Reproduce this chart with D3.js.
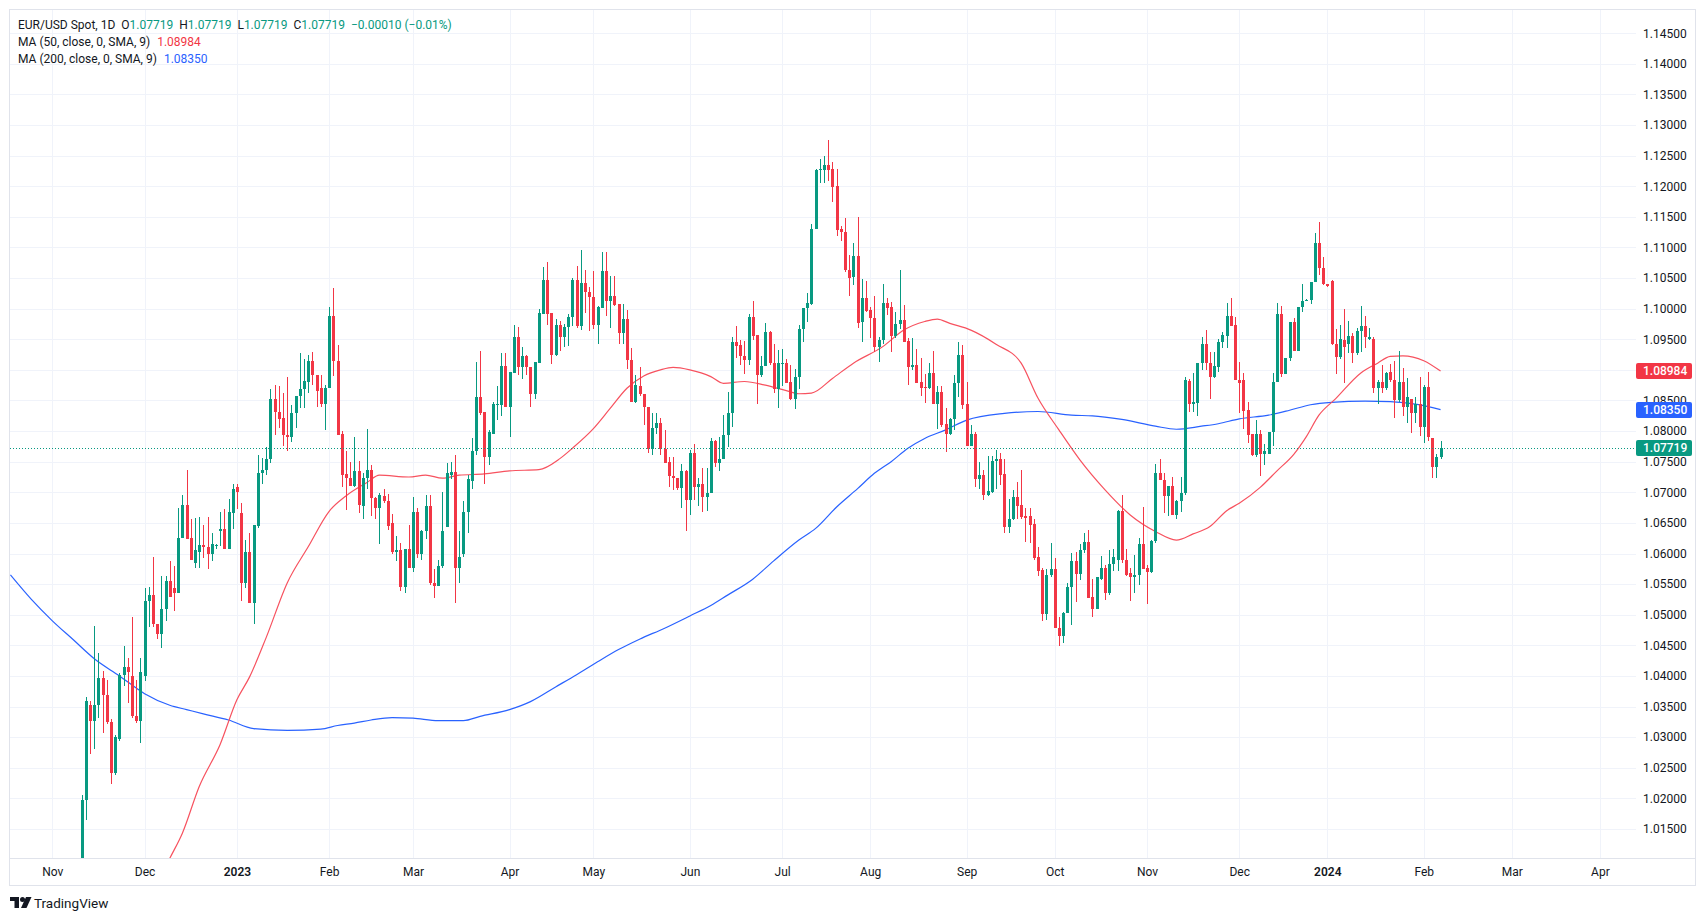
<!DOCTYPE html>
<html>
<head>
<meta charset="utf-8">
<script src="https://cdn.jsdelivr.net/npm/d3@7"></script>
<style>
  html, body { margin: 0; padding: 0; background: #fff; }
  svg { display: block; font-family: Roboto, "Noto Sans", sans-serif; }
</style>
</head>
<body>
<svg id="chart" width="1706" height="921"></svg>
<script>
// EUR/USD daily candles, one value per weekday starting at firstCandleDay
const firstCandleDay = "2022-11-10";

const opens = [
  1.0010, 1.0197, 1.0352, 1.0327, 1.0352, 1.0397, 1.0368, 1.0325, 1.0241, 1.0297, 1.0401, 1.0414, 1.0400, 1.0334, 1.0326,
  1.0400, 1.0523, 1.0533, 1.0485, 1.0469, 1.0509, 1.0555, 1.0543, 1.0535, 1.0626, 1.0679, 1.0625, 1.0584, 1.0603, 1.0614, 1.0611, 1.0599, 1.0613, 1.0636, 1.0640, 1.0608, 1.0666,
  1.0708, 1.0666, 1.0551, 1.0603, 1.0519, 1.0645, 1.0731, 1.0736, 1.0754, 1.0853, 1.0831, 1.0822, 1.0793, 1.0790, 1.0829, 1.0857, 1.0868, 1.0880, 1.0915, 1.0892, 1.0870, 1.0845,
  1.0871, 1.0988, 1.0915, 1.0796, 1.0730, 1.0724, 1.0711, 1.0734, 1.0677, 1.0723, 1.0737, 1.0690, 1.0674, 1.0694, 1.0685, 1.0650, 1.0603, 1.0606, 1.0546, 1.0608,
  1.0577, 1.0667, 1.0600, 1.0636, 1.0678, 1.0552, 1.0547, 1.0580, 1.0643, 1.0728, 1.0733, 1.0576, 1.0600, 1.0667, 1.0719, 1.0768, 1.0856, 1.0831, 1.0758, 1.0796, 1.0843, 1.0843, 1.0906,
  1.0839, 1.0895, 1.0954, 1.0904, 1.0923, 1.0904, 1.0861, 1.0912, 1.0992, 1.1047, 1.0993, 1.0924, 1.0973, 1.0954, 1.0970, 1.0986, 1.1047, 1.0972, 1.1042, 1.1028,
  1.1019, 1.0973, 1.1001, 1.1061, 1.1012, 1.1021, 1.1007, 1.0961, 1.0983, 1.0916, 1.0848, 1.0874, 1.0861, 1.0840, 1.0770, 1.0805, 1.0813, 1.0770, 1.0750, 1.0726, 1.0724, 1.0707, 1.0735,
  1.0688, 1.0764, 1.0708, 1.0713, 1.0693, 1.0699, 1.0783, 1.0748, 1.0755, 1.0794, 1.0829, 1.0946, 1.0941, 1.0922, 1.0916, 1.0987, 1.0957, 1.0892, 1.0906, 1.0962, 1.0912, 1.0868,
  1.0909, 1.0912, 1.0881, 1.0853, 1.0888, 1.0966, 1.1001, 1.1008, 1.1130, 1.1226, 1.1227, 1.1235, 1.1228, 1.1200, 1.1131, 1.1126, 1.1064, 1.1051, 1.1086, 1.0979, 1.1017,
  1.0998, 1.0984, 1.0937, 1.0949, 1.1009, 1.1002, 1.0955, 1.0975, 1.0981, 1.0948, 1.0905, 1.0908, 1.0881, 1.0872, 1.0870, 1.0895, 1.0844, 1.0864, 1.0811, 1.0795, 1.0819, 1.0879, 1.0924,
  1.0844, 1.0776, 1.0795, 1.0721, 1.0728, 1.0696, 1.0701, 1.0751, 1.0754, 1.0730, 1.0643, 1.0657, 1.0693, 1.0679, 1.0661, 1.0661, 1.0648, 1.0594, 1.0573, 1.0501, 1.0565,
  1.0574, 1.0478, 1.0465, 1.0502, 1.0545, 1.0587, 1.0567, 1.0605, 1.0619, 1.0529, 1.0510, 1.0559, 1.0577, 1.0535, 1.0583, 1.0590, 1.0670, 1.0590, 1.0568, 1.0562, 1.0565, 1.0615,
  1.0577, 1.0570, 1.0621, 1.0731, 1.0720, 1.0694, 1.0710, 1.0663, 1.0685, 1.0699, 1.0882, 1.0844, 1.0846, 1.0912, 1.0942, 1.0912, 1.0888, 1.0905, 1.0946, 1.0955, 1.0988, 1.0973,
  1.0884, 1.0884, 1.0834, 1.0795, 1.0761, 1.0795, 1.0763, 1.0763, 1.0798, 1.0881, 1.0992, 1.0894, 1.0919, 1.0979, 1.0931, 1.1002, 1.1013, 1.1014, 1.1044, 1.1108, 1.1066,
  1.1040, 1.1046, 1.0942, 1.0921, 1.0949, 1.0942, 1.0955, 1.0928, 1.0964, 1.0971, 1.0950, 1.0951, 1.0871, 1.0881, 1.0870, 1.0897, 1.0884, 1.0850, 1.0881, 1.0840, 1.0852, 1.0830, 1.0845,
  1.0807, 1.0872, 1.0788, 1.0742, 1.0757
];

const highs = [
  1.0205, 1.0365, 1.0359, 1.0481, 1.0438, 1.0408, 1.0394, 1.0330, 1.0303, 1.0404, 1.0449, 1.0429, 1.0497, 1.0394, 1.0429,
  1.0543, 1.0545, 1.0595, 1.0485, 1.0564, 1.0564, 1.0588, 1.0580, 1.0674, 1.0695, 1.0736, 1.0656, 1.0658, 1.0660, 1.0646, 1.0660, 1.0633, 1.0615, 1.0668, 1.0673, 1.0689, 1.0713,
  1.0713, 1.0682, 1.0622, 1.0633, 1.0646, 1.0761, 1.0756, 1.0774, 1.0868, 1.0876, 1.0874, 1.0863, 1.0888, 1.0842, 1.0857, 1.0928, 1.0917, 1.0925, 1.0929, 1.0892, 1.0891, 1.0876,
  1.1002, 1.1034, 1.0940, 1.0800, 1.0767, 1.0749, 1.0791, 1.0751, 1.0731, 1.0804, 1.0745, 1.0693, 1.0699, 1.0706, 1.0698, 1.0664, 1.0628, 1.0617, 1.0608, 1.0646,
  1.0693, 1.0674, 1.0638, 1.0696, 1.0696, 1.0574, 1.0590, 1.0701, 1.0748, 1.0750, 1.0761, 1.0636, 1.0686, 1.0728, 1.0788, 1.0913, 1.0931, 1.0831, 1.0801, 1.0848, 1.0873, 1.0927, 1.0927,
  1.0897, 1.0973, 1.0970, 1.0937, 1.0924, 1.0904, 1.0913, 1.1000, 1.1068, 1.1077, 1.0993, 1.0983, 1.0980, 1.0975, 1.0991, 1.1050, 1.1069, 1.1096, 1.1063, 1.1036,
  1.1062, 1.1004, 1.1093, 1.1093, 1.1053, 1.1053, 1.1007, 1.1007, 1.0998, 1.0935, 1.0892, 1.0904, 1.0861, 1.0840, 1.0829, 1.0830, 1.0821, 1.0802, 1.0758, 1.0758, 1.0724, 1.0747, 1.0736,
  1.0769, 1.0779, 1.0723, 1.0739, 1.0739, 1.0788, 1.0785, 1.0791, 1.0826, 1.0864, 1.0954, 1.0972, 1.0949, 1.0948, 1.0991, 1.1013, 1.0957, 1.0922, 1.0977, 1.0964, 1.0943, 1.0932,
  1.0934, 1.0917, 1.0908, 1.0901, 1.0973, 1.1001, 1.1026, 1.1139, 1.1229, 1.1244, 1.1250, 1.1276, 1.1239, 1.1229, 1.1135, 1.1148, 1.1088, 1.1107, 1.1150, 1.1048, 1.1046,
  1.1003, 1.1021, 1.0954, 1.1041, 1.1017, 1.1011, 1.0995, 1.1064, 1.1006, 1.0952, 1.0952, 1.0934, 1.0919, 1.0894, 1.0912, 1.0931, 1.0873, 1.0873, 1.0837, 1.0822, 1.0892, 1.0945, 1.0941,
  1.0881, 1.0810, 1.0799, 1.0750, 1.0736, 1.0759, 1.0759, 1.0769, 1.0765, 1.0754, 1.0689, 1.0703, 1.0717, 1.0737, 1.0674, 1.0674, 1.0656, 1.0610, 1.0576, 1.0574, 1.0617,
  1.0592, 1.0496, 1.0505, 1.0552, 1.0601, 1.0603, 1.0615, 1.0634, 1.0639, 1.0559, 1.0562, 1.0596, 1.0581, 1.0605, 1.0607, 1.0671, 1.0696, 1.0607, 1.0577, 1.0598, 1.0625, 1.0676,
  1.0581, 1.0622, 1.0747, 1.0755, 1.0731, 1.0710, 1.0725, 1.0687, 1.0725, 1.0889, 1.0885, 1.0895, 1.0911, 1.0953, 1.0965, 1.0930, 1.0930, 1.0950, 1.0962, 1.1009, 1.1017, 1.0986,
  1.0913, 1.0895, 1.0848, 1.0795, 1.0818, 1.0802, 1.0779, 1.0799, 1.0895, 1.1009, 1.1004, 1.0919, 1.0979, 1.0984, 1.1002, 1.1040, 1.1016, 1.1044, 1.1124, 1.1141, 1.1085,
  1.1041, 1.1047, 1.0966, 1.0973, 1.0999, 1.0980, 1.0961, 1.0968, 1.1004, 1.0988, 1.0968, 1.0953, 1.0883, 1.0908, 1.0897, 1.0910, 1.0915, 1.0931, 1.0903, 1.0886, 1.0852, 1.0856, 1.0889,
  1.0875, 1.0897, 1.0788, 1.0763, 1.0784
];

const lows = [
  0.9990, 1.0165, 1.0272, 1.0281, 1.0331, 1.0306, 1.0322, 1.0223, 1.0238, 1.0294, 1.0383, 1.0355, 1.0331, 1.0323, 1.0291,
  1.0392, 1.0480, 1.0480, 1.0460, 1.0445, 1.0490, 1.0529, 1.0506, 1.0535, 1.0626, 1.0623, 1.0589, 1.0576, 1.0577, 1.0592, 1.0575, 1.0588, 1.0608, 1.0612, 1.0608, 1.0608, 1.0640,
  1.0673, 1.0522, 1.0543, 1.0519, 1.0485, 1.0642, 1.0714, 1.0728, 1.0748, 1.0793, 1.0805, 1.0775, 1.0768, 1.0782, 1.0805, 1.0837, 1.0837, 1.0863, 1.0876, 1.0839, 1.0839, 1.0802,
  1.0871, 1.0890, 1.0793, 1.0709, 1.0671, 1.0711, 1.0709, 1.0666, 1.0657, 1.0706, 1.0661, 1.0656, 1.0615, 1.0682, 1.0638, 1.0600, 1.0587, 1.0538, 1.0535, 1.0577,
  1.0569, 1.0592, 1.0590, 1.0623, 1.0548, 1.0527, 1.0547, 1.0576, 1.0643, 1.0721, 1.0519, 1.0552, 1.0595, 1.0633, 1.0706, 1.0761, 1.0826, 1.0714, 1.0745, 1.0795, 1.0818, 1.0825, 1.0839,
  1.0790, 1.0895, 1.0892, 1.0885, 1.0892, 1.0839, 1.0853, 1.0912, 1.0991, 1.0973, 1.0910, 1.0922, 1.0931, 1.0938, 1.0939, 1.0972, 1.0968, 1.0965, 1.0993, 1.0964,
  1.0966, 1.0942, 1.1001, 1.0988, 1.0968, 1.1004, 1.0943, 1.0943, 1.0902, 1.0848, 1.0846, 1.0857, 1.0810, 1.0764, 1.0761, 1.0795, 1.0761, 1.0748, 1.0709, 1.0704, 1.0704, 1.0674, 1.0636,
  1.0663, 1.0687, 1.0677, 1.0668, 1.0670, 1.0699, 1.0742, 1.0734, 1.0755, 1.0774, 1.0806, 1.0919, 1.0908, 1.0894, 1.0908, 1.0949, 1.0845, 1.0889, 1.0906, 1.0908, 1.0862, 1.0837,
  1.0873, 1.0878, 1.0851, 1.0836, 1.0868, 1.0946, 1.0979, 1.1006, 1.1130, 1.1206, 1.1205, 1.1209, 1.1175, 1.1119, 1.1110, 1.1060, 1.1021, 1.1039, 1.0968, 1.0945, 1.0995,
  1.0952, 1.0930, 1.0913, 1.0943, 1.0990, 1.0930, 1.0952, 1.0966, 1.0945, 1.0875, 1.0900, 1.0878, 1.0857, 1.0846, 1.0868, 1.0844, 1.0803, 1.0806, 1.0766, 1.0794, 1.0802, 1.0856, 1.0836,
  1.0775, 1.0775, 1.0708, 1.0705, 1.0688, 1.0694, 1.0699, 1.0706, 1.0712, 1.0633, 1.0634, 1.0655, 1.0656, 1.0657, 1.0618, 1.0617, 1.0590, 1.0563, 1.0489, 1.0491, 1.0561,
  1.0478, 1.0449, 1.0453, 1.0502, 1.0483, 1.0521, 1.0556, 1.0601, 1.0527, 1.0497, 1.0509, 1.0556, 1.0524, 1.0532, 1.0572, 1.0572, 1.0584, 1.0563, 1.0523, 1.0536, 1.0548, 1.0574,
  1.0517, 1.0568, 1.0617, 1.0720, 1.0666, 1.0661, 1.0663, 1.0657, 1.0667, 1.0696, 1.0832, 1.0832, 1.0825, 1.0899, 1.0899, 1.0852, 1.0886, 1.0896, 1.0935, 1.0935, 1.0972, 1.0883,
  1.0830, 1.0804, 1.0780, 1.0759, 1.0757, 1.0726, 1.0745, 1.0763, 1.0775, 1.0881, 1.0889, 1.0893, 1.0915, 1.0931, 1.0931, 1.0995, 1.1012, 1.1008, 1.1044, 1.1055, 1.1039,
  1.1036, 1.0941, 1.0894, 1.0917, 1.0878, 1.0927, 1.0912, 1.0924, 1.0930, 1.0935, 1.0949, 1.0863, 1.0845, 1.0863, 1.0867, 1.0881, 1.0822, 1.0848, 1.0825, 1.0814, 1.0797, 1.0814, 1.0792,
  1.0781, 1.0783, 1.0724, 1.0724, 1.0754
];

const closes = [
  1.0197, 1.0359, 1.0327, 1.0352, 1.0397, 1.0368, 1.0325, 1.0241, 1.0300, 1.0401, 1.0414, 1.0407, 1.0334, 1.0326, 1.0406,
  1.0523, 1.0533, 1.0485, 1.0469, 1.0509, 1.0555, 1.0529, 1.0535, 1.0626, 1.0679, 1.0623, 1.0590, 1.0605, 1.0614, 1.0611, 1.0599, 1.0615, 1.0614, 1.0640, 1.0608, 1.0668, 1.0705,
  1.0700, 1.0551, 1.0603, 1.0519, 1.0646, 1.0731, 1.0736, 1.0754, 1.0853, 1.0831, 1.0820, 1.0793, 1.0790, 1.0830, 1.0857, 1.0868, 1.0882, 1.0915, 1.0892, 1.0865, 1.0845, 1.0871,
  1.0988, 1.0915, 1.0793, 1.0728, 1.0724, 1.0711, 1.0734, 1.0679, 1.0723, 1.0737, 1.0690, 1.0674, 1.0696, 1.0685, 1.0645, 1.0603, 1.0606, 1.0546, 1.0608, 1.0577,
  1.0667, 1.0600, 1.0636, 1.0678, 1.0551, 1.0547, 1.0580, 1.0636, 1.0731, 1.0733, 1.0576, 1.0595, 1.0667, 1.0721, 1.0768, 1.0856, 1.0829, 1.0758, 1.0799, 1.0844, 1.0844, 1.0906, 1.0839,
  1.0897, 1.0954, 1.0904, 1.0923, 1.0905, 1.0861, 1.0913, 1.0993, 1.1047, 1.0991, 1.0924, 1.0973, 1.0954, 1.0970, 1.0986, 1.1047, 1.0972, 1.1042, 1.1028, 1.1019,
  1.0973, 1.1003, 1.1061, 1.1012, 1.1021, 1.1006, 1.0961, 1.0983, 1.0916, 1.0848, 1.0875, 1.0861, 1.0840, 1.0770, 1.0805, 1.0814, 1.0770, 1.0748, 1.0726, 1.0724, 1.0707, 1.0735, 1.0688,
  1.0764, 1.0708, 1.0713, 1.0693, 1.0699, 1.0783, 1.0748, 1.0755, 1.0794, 1.0829, 1.0946, 1.0939, 1.0922, 1.0916, 1.0987, 1.0955, 1.0892, 1.0906, 1.0962, 1.0912, 1.0868, 1.0912,
  1.0911, 1.0879, 1.0853, 1.0888, 1.0966, 1.1001, 1.1009, 1.1131, 1.1227, 1.1228, 1.1235, 1.1227, 1.1199, 1.1129, 1.1126, 1.1063, 1.1050, 1.1086, 1.0977, 1.1017, 1.0997,
  1.0984, 1.0937, 1.0949, 1.1009, 1.1001, 1.0955, 1.0975, 1.0981, 1.0946, 1.0905, 1.0908, 1.0879, 1.0870, 1.0871, 1.0895, 1.0844, 1.0864, 1.0810, 1.0795, 1.0819, 1.0879, 1.0924, 1.0843,
  1.0776, 1.0795, 1.0721, 1.0728, 1.0696, 1.0702, 1.0751, 1.0754, 1.0728, 1.0643, 1.0657, 1.0693, 1.0678, 1.0659, 1.0658, 1.0647, 1.0592, 1.0572, 1.0501, 1.0565, 1.0574,
  1.0478, 1.0465, 1.0503, 1.0545, 1.0587, 1.0566, 1.0605, 1.0619, 1.0527, 1.0510, 1.0561, 1.0577, 1.0535, 1.0583, 1.0594, 1.0670, 1.0590, 1.0565, 1.0562, 1.0565, 1.0615, 1.0574,
  1.0570, 1.0621, 1.0731, 1.0720, 1.0694, 1.0710, 1.0663, 1.0685, 1.0699, 1.0883, 1.0844, 1.0848, 1.0911, 1.0942, 1.0912, 1.0888, 1.0906, 1.0946, 1.0957, 1.0988, 1.0972, 1.0883,
  1.0879, 1.0833, 1.0794, 1.0761, 1.0795, 1.0763, 1.0767, 1.0799, 1.0881, 1.0992, 1.0894, 1.0919, 1.0979, 1.0931, 1.1002, 1.1013, 1.1014, 1.1044, 1.1108, 1.1066, 1.1040,
  1.1037, 1.0942, 1.0921, 1.0950, 1.0938, 1.0955, 1.0928, 1.0964, 1.0971, 1.0953, 1.0953, 1.0871, 1.0881, 1.0870, 1.0895, 1.0883, 1.0850, 1.0881, 1.0840, 1.0855, 1.0830, 1.0845, 1.0807,
  1.0872, 1.0790, 1.0742, 1.0758, 1.07719
];

// moving averages
const ma50Dates = ["2022-12-07","2022-12-09","2022-12-14","2022-12-20","2022-12-27","2023-01-02","2023-01-05","2023-01-11","2023-01-18","2023-01-25",
  "2023-02-01","2023-02-07","2023-02-14","2023-02-17","2023-02-28","2023-03-06","2023-03-10","2023-03-16","2023-03-24","2023-04-03",
  "2023-04-12","2023-04-19","2023-04-24","2023-05-01","2023-05-05","2023-05-11","2023-05-17","2023-05-23","2023-05-26","2023-06-01",
  "2023-06-08","2023-06-13","2023-06-20","2023-06-27","2023-07-04","2023-07-07","2023-07-12","2023-07-19","2023-07-26","2023-08-04",
  "2023-08-11","2023-08-18","2023-08-23","2023-08-28","2023-09-04","2023-09-12","2023-09-20","2023-09-26","2023-10-03","2023-10-10",
  "2023-10-18","2023-10-26","2023-11-03","2023-11-10","2023-11-16","2023-11-22","2023-11-28","2023-12-01","2023-12-08","2023-12-14",
  "2023-12-20","2023-12-25","2023-12-28","2024-01-03","2024-01-11","2024-01-17","2024-01-22","2024-01-25","2024-02-01","2024-02-07"];
const ma50Values = [1.0075, 1.0102, 1.0143, 1.0219, 1.0288, 1.0361, 1.0398, 1.0463, 1.0552, 1.0611,
  1.0669, 1.0694, 1.0716, 1.0728, 1.0725, 1.0728, 1.0723, 1.0728, 1.0730, 1.0735,
  1.0737, 1.0755, 1.0772, 1.0804, 1.0837, 1.0870, 1.0890, 1.0900, 1.0904, 1.0900,
  1.0889, 1.0878, 1.0881, 1.0875, 1.0866, 1.0861, 1.0862, 1.0886, 1.0911, 1.0938,
  1.0965, 1.0979, 1.0983, 1.0976, 1.0965, 1.0942, 1.0911, 1.0854, 1.0802, 1.0753,
  1.0704, 1.0663, 1.0636, 1.0622, 1.0632, 1.0644, 1.0670, 1.0682, 1.0708, 1.0735,
  1.0762, 1.0791, 1.0826, 1.0853, 1.0895, 1.0911, 1.0922, 1.0923, 1.0915, 1.0898];

const ma200Dates = ["2022-10-18","2022-10-25","2022-11-01","2022-11-08","2022-11-15","2022-11-23","2022-12-01","2022-12-09","2022-12-15","2022-12-21",
  "2022-12-29","2023-01-06","2023-01-18","2023-01-30","2023-02-03","2023-02-09","2023-02-15","2023-02-22","2023-03-01","2023-03-09",
  "2023-03-17","2023-03-23","2023-04-03","2023-04-10","2023-04-18","2023-04-25","2023-05-02","2023-05-09","2023-05-16","2023-05-24",
  "2023-06-01","2023-06-08","2023-06-14","2023-06-22","2023-06-29","2023-07-07","2023-07-13","2023-07-20","2023-07-27","2023-08-02",
  "2023-08-08","2023-08-14","2023-08-18","2023-08-25","2023-09-01","2023-09-14","2023-09-26","2023-10-06","2023-10-13","2023-10-24",
  "2023-11-03","2023-11-10","2023-11-20","2023-11-24","2023-12-01","2023-12-12","2023-12-19","2023-12-26","2024-01-02","2024-01-12",
  "2024-01-22","2024-01-30","2024-02-07"];
const ma200Values = [1.0565, 1.0525, 1.0490, 1.0459, 1.0428, 1.0400, 1.0371, 1.0352, 1.0345, 1.0338,
  1.0328, 1.0314, 1.0311, 1.0313, 1.0319, 1.0323, 1.0328, 1.0332, 1.0331, 1.0327,
  1.0327, 1.0334, 1.0345, 1.0358, 1.0382, 1.0402, 1.0423, 1.0443, 1.0460, 1.0478,
  1.0498, 1.0515, 1.0532, 1.0558, 1.0588, 1.0622, 1.0641, 1.0676, 1.0706, 1.0731,
  1.0750, 1.0772, 1.0788, 1.0802, 1.0818, 1.0829, 1.0832, 1.0826, 1.0825, 1.0819,
  1.0808, 1.0803, 1.0808, 1.0812, 1.0820, 1.0826, 1.0834, 1.0843, 1.0847, 1.0849,
  1.0848, 1.0844, 1.0835];

// axis ticks
const priceTicks = [1.015, 1.020, 1.025, 1.030, 1.035, 1.040, 1.045, 1.050, 1.055, 1.060, 1.065, 1.070, 1.075, 1.080,
  1.085, 1.090, 1.095, 1.100, 1.105, 1.110, 1.115, 1.120, 1.125, 1.130, 1.135, 1.140, 1.145];
const monthTicks = ["2022-11","2022-12","2023-01","2023-02","2023-03","2023-04","2023-05","2023-06","2023-07",
  "2023-08","2023-09","2023-10","2023-11","2023-12","2024-01","2024-02","2024-03","2024-04"];
const monthLabels = ["Nov","Dec","2023","Feb","Mar","Apr","May","Jun","Jul","Aug","Sep","Oct","Nov","Dec","2024","Feb","Mar","Apr"];

// legend / last values
const symbolTitle = "EUR/USD Spot, 1D";
const legendOHLC = [["O", "1.07719"], ["H", "1.07719"], ["L", "1.07719"], ["C", "1.07719"]];
const legendChange = "\u22120.00010 (\u22120.01%)";
const ma50Title = "MA (50, close, 0, SMA, 9)";
const ma200Title = "MA (200, close, 0, SMA, 9)";
const ma50Last = 1.08984;
const ma200Last = 1.08350;
const lastPrice = 1.07719;

// ---------------------------------------------------------------
const upColor = "#089981", downColor = "#F23645";
const ma50Color = "#F7525F", ma200Color = "#2962FF";
const textColor = "#131722", gridColor = "#F0F3FA", borderColor = "#E0E3EB";
const plot = {left: 10, right: 1636, top: 10, bottom: 858};

const parseDay = d3.timeParse("%Y-%m-%d");
const fmtDay = d3.timeFormat("%Y-%m-%d");
const fmtMonth = d3.timeFormat("%Y-%m");

// trading days = weekdays
const weekdays = d3.timeDay.range(parseDay("2022-10-18"), parseDay("2024-04-20"))
    .filter(d => d.getDay() > 0 && d.getDay() < 6);
const dayIndex = new Map(weekdays.map((d, i) => [fmtDay(d), i]));

const x = d3.scaleLinear().domain([-0.1, 387.6]).range([plot.left, plot.right]);
const y = d3.scaleLinear().domain([1.01025, 1.1488]).range([plot.bottom, plot.top]);

const start = dayIndex.get(firstCandleDay);
const candles = closes.map((c, k) => ({i: start + k, o: opens[k], h: highs[k], l: lows[k], c: c}));
const ma50 = ma50Dates.map((d, k) => ({i: dayIndex.get(d), v: ma50Values[k]}));
const ma200 = ma200Dates.map((d, k) => ({i: dayIndex.get(d), v: ma200Values[k]}));
const monthIdx = monthTicks.map(m => weekdays.findIndex(d => fmtMonth(d) === m));

const svg = d3.select("#chart");
svg.append("rect").attr("width", 1706).attr("height", 921).attr("fill", "#fff");

svg.append("defs").append("clipPath").attr("id", "plotClip")
  .append("rect")
  .attr("x", plot.left).attr("y", plot.top)
  .attr("width", plot.right - plot.left).attr("height", plot.bottom - plot.top);

// grid
const grid = svg.append("g").attr("shape-rendering", "crispEdges").attr("stroke", gridColor);
grid.selectAll("line.h").data(priceTicks).join("line")
  .attr("x1", plot.left).attr("x2", plot.right)
  .attr("y1", d => Math.round(y(d)) + 0.5).attr("y2", d => Math.round(y(d)) + 0.5);
grid.selectAll("line.v").data(monthIdx).join("line")
  .attr("y1", plot.top).attr("y2", plot.bottom)
  .attr("x1", d => Math.round(x(d)) + 0.5).attr("x2", d => Math.round(x(d)) + 0.5);

// frame
svg.append("rect")
  .attr("x", 9.5).attr("y", 9.5).attr("width", 1686).attr("height", 876)
  .attr("fill", "none").attr("stroke", borderColor);
svg.append("line")
  .attr("x1", 10).attr("x2", 1695).attr("y1", plot.bottom + 0.5).attr("y2", plot.bottom + 0.5)
  .attr("stroke", borderColor);

const area = svg.append("g").attr("clip-path", "url(#plotClip)");

// moving averages
const line = d3.line().x(d => x(d.i)).y(d => y(d.v)).curve(d3.curveMonotoneX);
area.append("path").datum(ma200).attr("d", line)
  .attr("fill", "none").attr("stroke", ma200Color).attr("stroke-width", 1.2);
area.append("path").datum(ma50).attr("d", line)
  .attr("fill", "none").attr("stroke", ma50Color).attr("stroke-width", 1.2);

// candles
const cg = area.append("g").attr("shape-rendering", "crispEdges")
  .selectAll("g").data(candles).join("g")
  .attr("fill", d => d.c >= d.o ? upColor : downColor);
cg.append("rect")
  .attr("x", d => Math.round(x(d.i)))
  .attr("width", 1)
  .attr("y", d => y(d.h))
  .attr("height", d => Math.max(1, y(d.l) - y(d.h)));
cg.append("rect")
  .attr("x", d => Math.round(x(d.i)) - 1)
  .attr("width", 3)
  .attr("y", d => Math.round(y(Math.max(d.o, d.c))))
  .attr("height", d => Math.max(1, Math.round(y(Math.min(d.o, d.c))) - Math.round(y(Math.max(d.o, d.c)))));

// last price line
area.append("line")
  .attr("x1", plot.left).attr("x2", plot.right)
  .attr("y1", Math.round(y(lastPrice)) + 0.5).attr("y2", Math.round(y(lastPrice)) + 0.5)
  .attr("stroke", upColor).attr("stroke-dasharray", "1 2");

// price axis
const yAxis = d3.axisRight(y).tickValues(priceTicks).tickFormat(d3.format(".5f")).tickSize(0).tickPadding(7);
const yg = svg.append("g").attr("transform", `translate(${plot.right},0)`).call(yAxis);
yg.select(".domain").remove();
yg.attr("font-family", null).attr("font-size", 12);
yg.selectAll("text").attr("fill", textColor);

// time axis
const xAxis = d3.axisBottom(x).tickValues(monthIdx).tickFormat((d, k) => monthLabels[k]).tickSize(0).tickPadding(9);
const xg = svg.append("g").attr("transform", `translate(0,${plot.bottom})`).call(xAxis);
xg.select(".domain").remove();
xg.attr("font-family", null).attr("font-size", 12);
xg.selectAll("text").attr("fill", textColor)
  .attr("font-weight", (d, k) => /^\d{4}$/.test(monthLabels[k]) ? 600 : 400);

// value badges on the price axis
const badges = [
  {v: ma50Last, color: downColor},
  {v: ma200Last, color: ma200Color},
  {v: lastPrice, color: upColor}
];
const bg = svg.append("g").selectAll("g").data(badges).join("g")
  .attr("transform", d => `translate(${plot.right},${Math.round(y(d.v))})`);
bg.append("rect").attr("x", 0).attr("y", -8).attr("width", 56).attr("height", 16).attr("rx", 2)
  .attr("fill", d => d.color);
bg.append("text").attr("x", 7).attr("dy", "0.35em")
  .attr("font-size", 12).attr("font-weight", 500).attr("fill", "#fff")
  .text(d => d3.format(".5f")(d.v));

// legend
const legend = svg.append("g").attr("font-size", 12).attr("fill", textColor);
const l1 = legend.append("text").attr("x", 18).attr("y", 25).attr("dy", "0.35em");
l1.append("tspan").text(symbolTitle);
legendOHLC.forEach(([k, v]) => {
  l1.append("tspan").attr("dx", 6).text(k);
  l1.append("tspan").attr("fill", upColor).text(v);
});
l1.append("tspan").attr("dx", 6).attr("fill", upColor).text(legendChange);

const l2 = legend.append("text").attr("x", 18).attr("y", 42).attr("dy", "0.35em");
l2.append("tspan").text(ma50Title);
l2.append("tspan").attr("dx", 7).attr("fill", downColor).text(d3.format(".5f")(ma50Last));

const l3 = legend.append("text").attr("x", 18).attr("y", 59).attr("dy", "0.35em");
l3.append("tspan").text(ma200Title);
l3.append("tspan").attr("dx", 7).attr("fill", ma200Color).text(d3.format(".5f")(ma200Last));

// TradingView mark
const logo = svg.append("g").attr("fill", textColor).attr("transform", "translate(10,897)");
logo.append("path").attr("d", "M0,0 H9 V11 H4.5 V4 H0 Z");
logo.append("circle").attr("cx", 12.5).attr("cy", 2.5).attr("r", 2.5);
logo.append("path").attr("d", "M16,0 H21.5 L16.5,11 H11 Z");
logo.append("text").attr("x", 24).attr("y", 6).attr("dy", "0.35em")
  .attr("font-size", 13.5).text("TradingView");
</script>
</body>
</html>
